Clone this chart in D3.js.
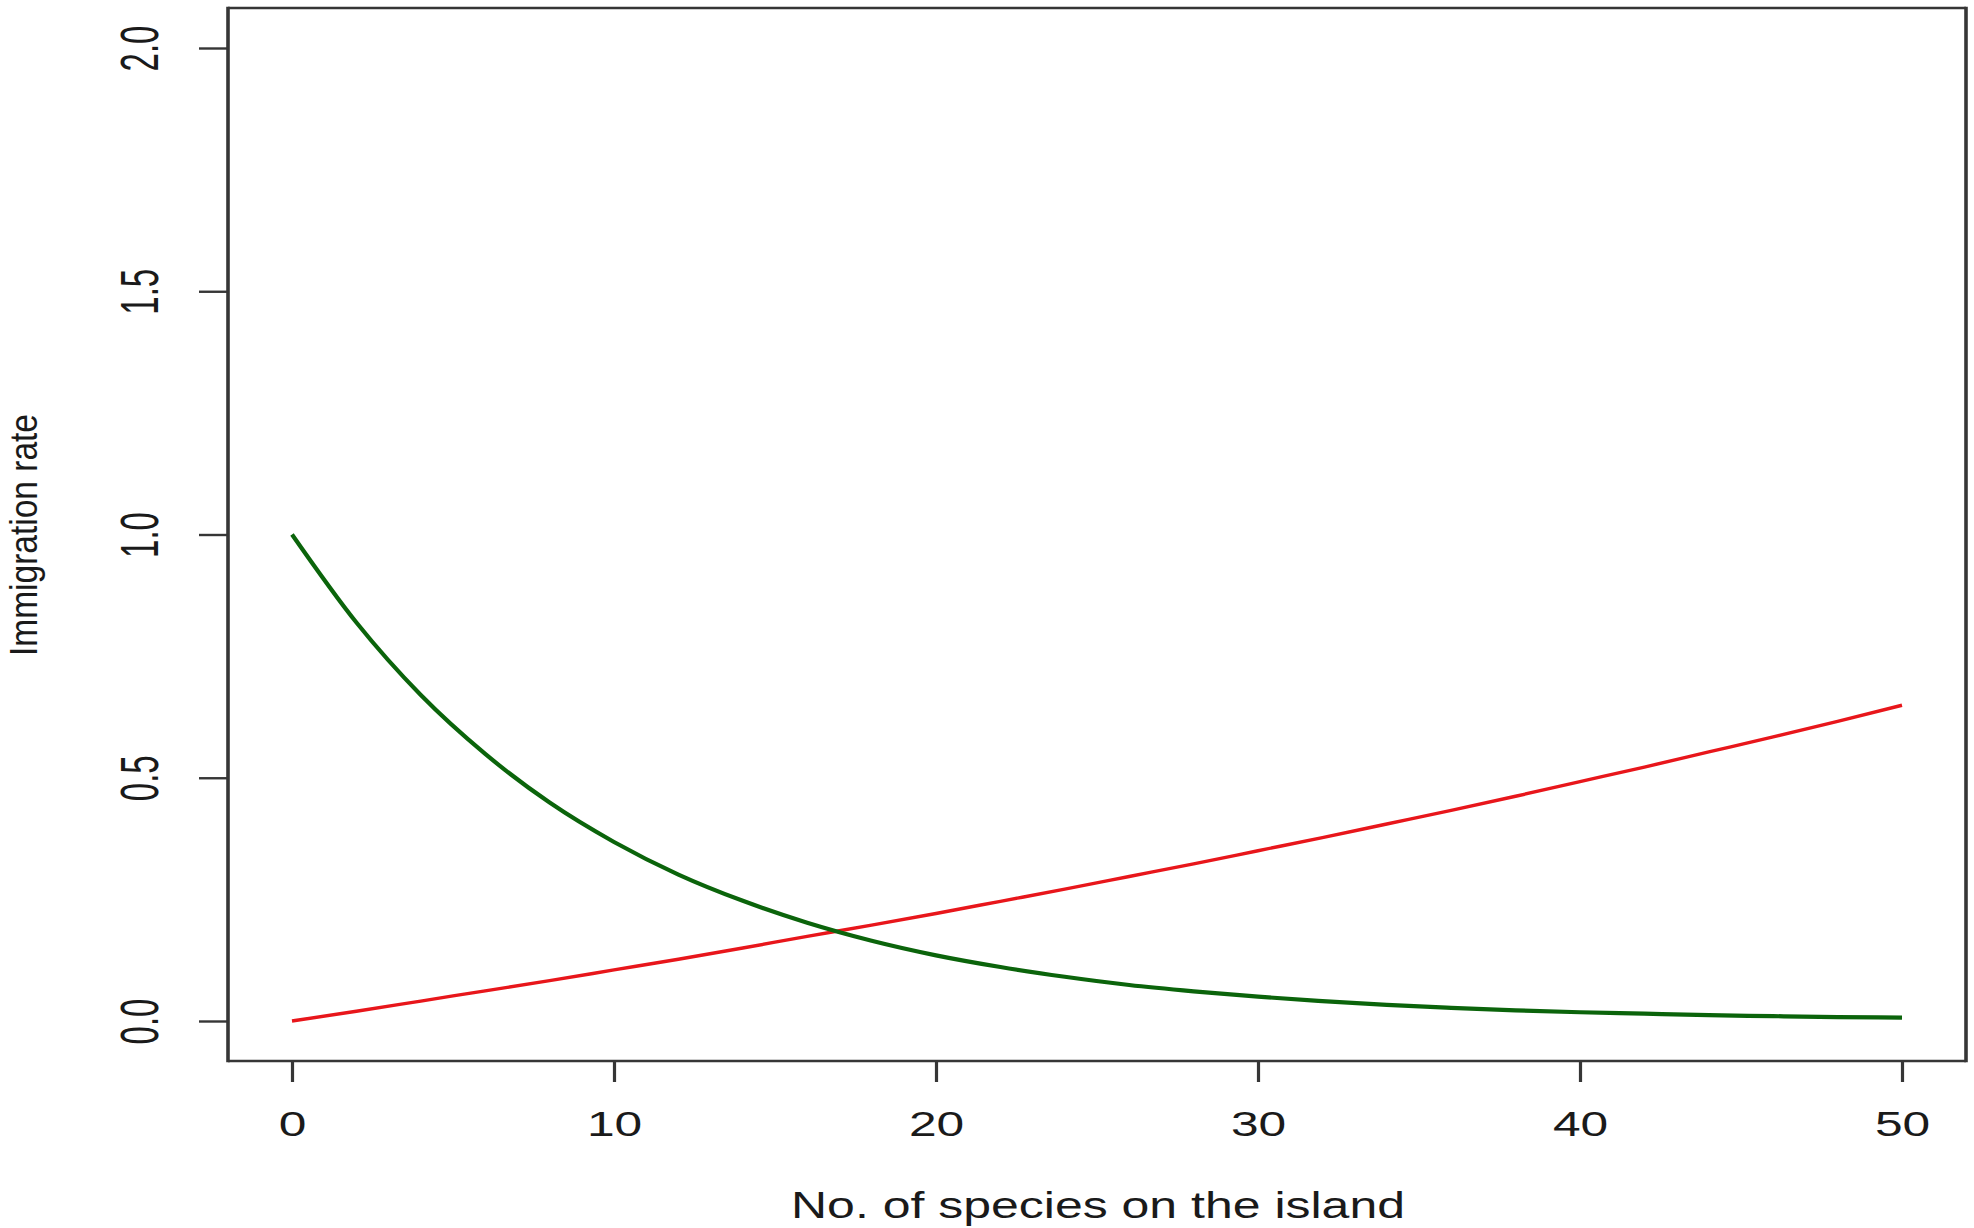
<!DOCTYPE html>
<html>
<head>
<meta charset="utf-8">
<script src="https://cdn.jsdelivr.net/npm/d3@7"></script>
<style>
  body { margin: 0; background: #fff; }
  text { font-family: "Liberation Sans", Arial, sans-serif; fill: #1a1a1a; }
</style>
</head>
<body>
<div id="chart"></div>
<script>
// number of species on the island (x values of the curves)
const species = [0, 2, 4, 6, 8, 10, 12, 14, 16, 18, 20, 22, 24, 26, 28, 30,
                 32, 34, 36, 38, 40, 42, 44, 46, 48, 50];

// green curve
const immigration = [1.000, 0.819, 0.670, 0.549, 0.449, 0.368, 0.301, 0.247, 0.202, 0.165,
                     0.135, 0.111, 0.091, 0.074, 0.061, 0.050, 0.041, 0.033, 0.027, 0.022,
                     0.018, 0.015, 0.012, 0.010, 0.008, 0.007];

// red curve
const extinction = [0.000, 0.020, 0.041, 0.062, 0.083, 0.105, 0.127, 0.150, 0.174, 0.197,
                    0.221, 0.246, 0.271, 0.297, 0.323, 0.350, 0.377, 0.405, 0.433, 0.462,
                    0.492, 0.522, 0.553, 0.584, 0.616, 0.649];

const xTicks = [0, 10, 20, 30, 40, 50];
const yTicks = [0.0, 0.5, 1.0, 1.5, 2.0];
const xLabel = "No. of species on the island";
const yLabel = "Immigration rate";

const width = 1974;
const height = 1228;
const box = { left: 228, right: 1966, top: 8, bottom: 1061 };
const axisColor = "#363636";

var svg = d3.select("#chart").append("svg")
    .attr("width", width)
    .attr("height", height);

// Set the scales
const x = d3.scaleLinear()
    .domain([0, 50])
    .range([292, 1902]);

const y = d3.scaleLinear()
    .domain([0, 2])
    .range([1021, 48]);

// Curves
const line = d3.line()
    .x((d, i) => x(species[i]))
    .y(d => y(d))
    .curve(d3.curveMonotoneX);

svg.append("path")
    .datum(extinction)
    .attr("fill", "none")
    .attr("stroke", "#e8161b")
    .attr("stroke-width", 3.4)
    .attr("d", line);

svg.append("path")
    .datum(immigration)
    .attr("fill", "none")
    .attr("stroke", "#0b640b")
    .attr("stroke-width", 4.2)
    .attr("d", line);

// Box round the plot, vertical sides drawn a bit heavier like the picture
svg.append("line")
    .attr("x1", box.left).attr("x2", box.right)
    .attr("y1", box.top).attr("y2", box.top)
    .attr("stroke", axisColor).attr("stroke-width", 2.4);
svg.append("line")
    .attr("x1", box.left).attr("x2", box.right)
    .attr("y1", box.bottom).attr("y2", box.bottom)
    .attr("stroke", axisColor).attr("stroke-width", 2.6);
svg.append("line")
    .attr("x1", box.left).attr("x2", box.left)
    .attr("y1", box.top - 1.2).attr("y2", box.bottom + 1.3)
    .attr("stroke", axisColor).attr("stroke-width", 3.6);
svg.append("line")
    .attr("x1", box.right).attr("x2", box.right)
    .attr("y1", box.top - 1.2).attr("y2", box.bottom + 1.3)
    .attr("stroke", axisColor).attr("stroke-width", 3.6);

// x axis
const xAxis = d3.axisBottom(x)
    .tickValues(xTicks)
    .tickSize(21)
    .tickFormat(d3.format("d"));

const gx = svg.append("g")
    .attr("transform", "translate(0," + box.bottom + ")")
    .attr("font-size", null)
    .attr("font-family", null)
    .call(xAxis);
gx.select(".domain").remove();
gx.selectAll(".tick line")
    .attr("stroke", axisColor)
    .attr("stroke-width", 3.2);
gx.selectAll(".tick text")
    .attr("y", null)
    .attr("dy", null)
    .attr("fill", "#1a1a1a")
    .style("font-size", "35px")
    .attr("transform", "translate(0,75) scale(1.42,1)");

// y axis, labels turned to read upwards
const yAxis = d3.axisLeft(y)
    .tickValues(yTicks)
    .tickSize(29)
    .tickFormat(d3.format(".1f"));

const gy = svg.append("g")
    .attr("transform", "translate(" + box.left + ",0)")
    .attr("font-size", null)
    .attr("font-family", null)
    .call(yAxis);
gy.select(".domain").remove();
gy.selectAll(".tick line")
    .attr("stroke", axisColor)
    .attr("stroke-width", 2.4);
gy.selectAll(".tick text")
    .attr("x", null)
    .attr("dy", null)
    .attr("fill", "#1a1a1a")
    .attr("text-anchor", "middle")
    .style("font-size", "33px")
    .attr("transform", "translate(-70,0) rotate(-90) scale(1,1.6)");

// Axis titles
svg.append("text")
    .attr("x", 1098)
    .attr("y", 1218)
    .attr("text-anchor", "middle")
    .style("font-size", "37px")
    .attr("textLength", 614)
    .attr("lengthAdjust", "spacingAndGlyphs")
    .text(xLabel);

svg.append("text")
    .attr("transform", "translate(37,535) rotate(-90)")
    .attr("text-anchor", "middle")
    .style("font-size", "38px")
    .attr("textLength", 242)
    .attr("lengthAdjust", "spacingAndGlyphs")
    .text(yLabel);
</script>
</body>
</html>
